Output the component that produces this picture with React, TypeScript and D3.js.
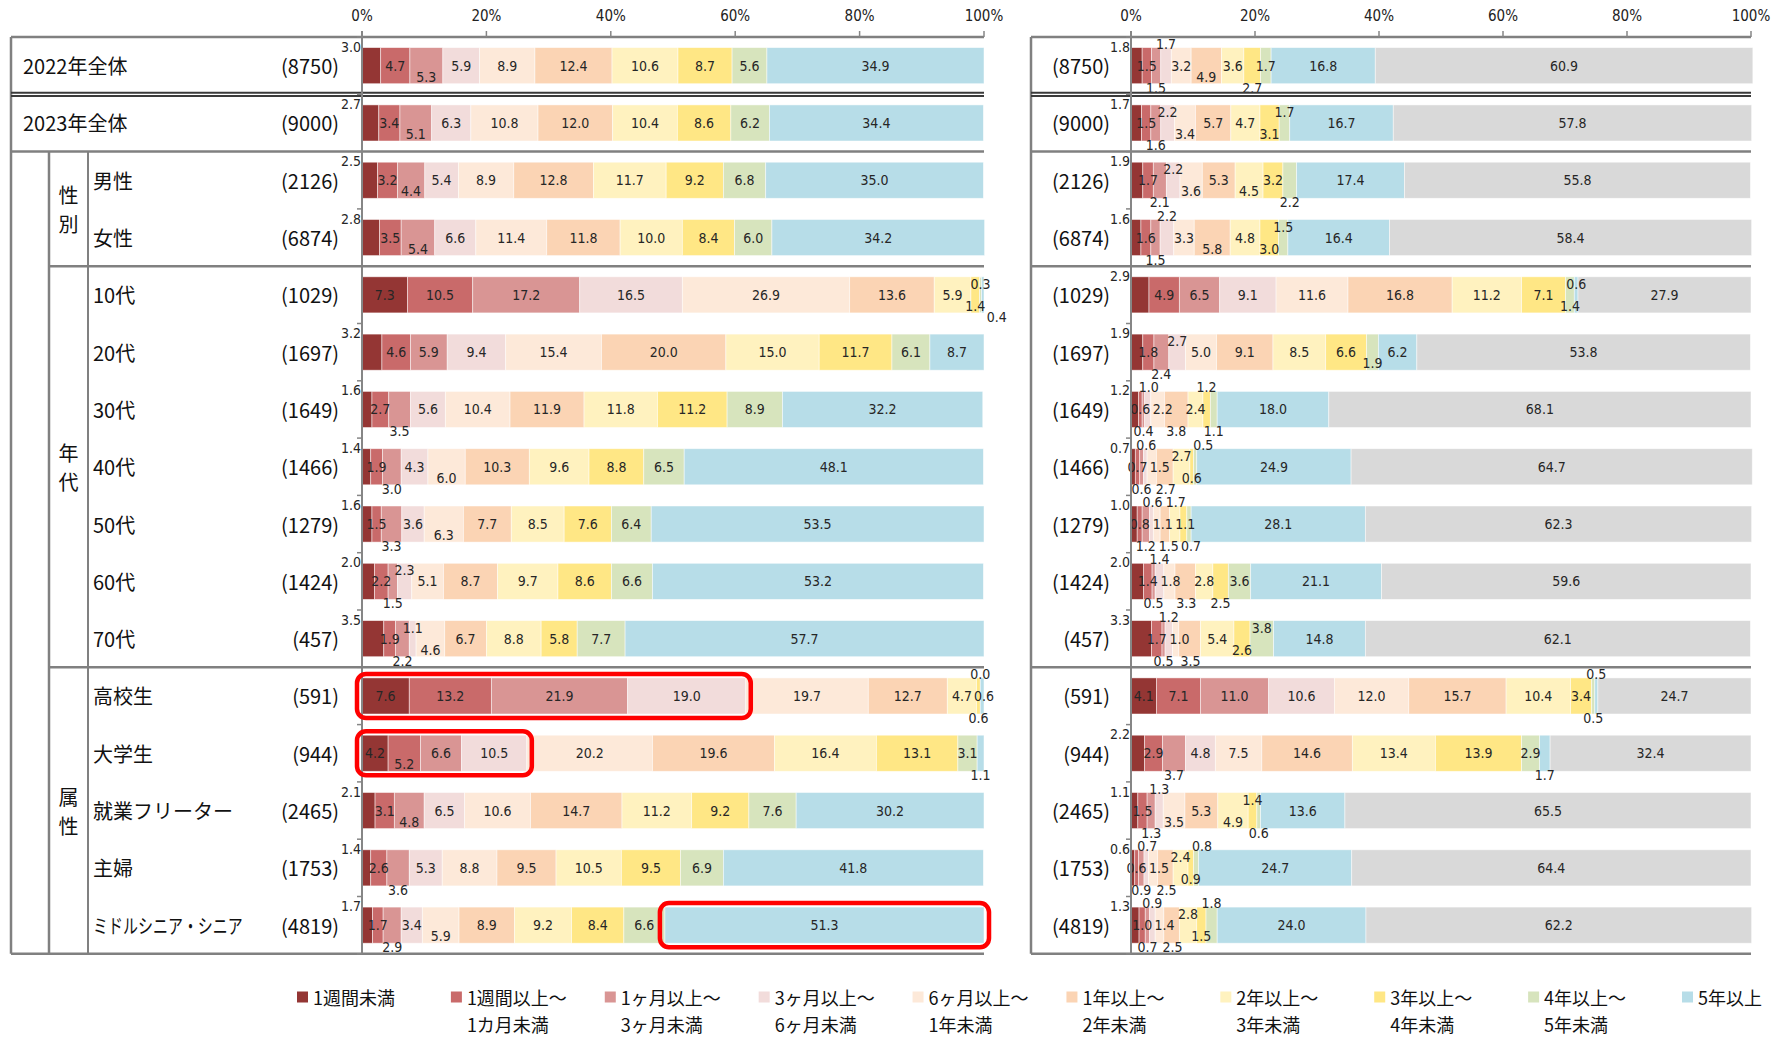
import React from 'react';
import * as d3 from 'd3';

// ---------- data ----------
const rowKeys = ['2022年全体', '2023年全体', '男性', '女性', '10代', '20代', '30代', '40代', '50代', '60代', '70代', '高校生', '大学生', '就業フリーター', '主婦', 'ミドルシニア・シニア'];
const rowN = [8750, 9000, 2126, 6874, 1029, 1697, 1649, 1466, 1279, 1424, 457, 591, 944, 2465, 1753, 4819];
const groupLabels = ['性別', '年代', '属性'];
const groupFrom = [2, 4, 11];
const groupTo = [3, 10, 15];

const legendLine1 = ['1週間未満', '1週間以上～', '1ヶ月以上～', '3ヶ月以上～', '6ヶ月以上～', '1年以上～', '2年以上～', '3年以上～', '4年以上～', '5年以上'];
const legendLine2 = ['', '1カ月未満', '3ヶ月未満', '6ヶ月未満', '1年未満', '2年未満', '3年未満', '4年未満', '5年未満', ''];
const segColors = ['#943634', '#C96A6A', '#D99594', '#F2DCDB', '#FDE9D9', '#FBD4B4', '#FFF2BF', '#FFE785', '#D7E4BD', '#B7DDE8', '#D9D9D9'];

const leftValues = [
  [3.0, 4.7, 5.3, 5.9, 8.9, 12.4, 10.6, 8.7, 5.6, 34.9],
  [2.7, 3.4, 5.1, 6.3, 10.8, 12.0, 10.4, 8.6, 6.2, 34.4],
  [2.5, 3.2, 4.4, 5.4, 8.9, 12.8, 11.7, 9.2, 6.8, 35.0],
  [2.8, 3.5, 5.4, 6.6, 11.4, 11.8, 10.0, 8.4, 6.0, 34.2],
  [7.3, 10.5, 17.2, 16.5, 26.9, 13.6, 5.9, 1.4, 0.3, 0.4],
  [3.2, 4.6, 5.9, 9.4, 15.4, 20.0, 15.0, 11.7, 6.1, 8.7],
  [1.6, 2.7, 3.5, 5.6, 10.4, 11.9, 11.8, 11.2, 8.9, 32.2],
  [1.4, 1.9, 3.0, 4.3, 6.0, 10.3, 9.6, 8.8, 6.5, 48.1],
  [1.6, 1.5, 3.3, 3.6, 6.3, 7.7, 8.5, 7.6, 6.4, 53.5],
  [2.0, 2.2, 1.5, 2.3, 5.1, 8.7, 9.7, 8.6, 6.6, 53.2],
  [3.5, 1.9, 2.2, 1.1, 4.6, 6.7, 8.8, 5.8, 7.7, 57.7],
  [7.6, 13.2, 21.9, 19.0, 19.7, 12.7, 4.7, 0.6, 0.0, 0.6],
  [4.2, 5.2, 6.6, 10.5, 20.2, 19.6, 16.4, 13.1, 3.1, 1.1],
  [2.1, 3.1, 4.8, 6.5, 10.6, 14.7, 11.2, 9.2, 7.6, 30.2],
  [1.4, 2.6, 3.6, 5.3, 8.8, 9.5, 10.5, 9.5, 6.9, 41.8],
  [1.7, 1.7, 2.9, 3.4, 5.9, 8.9, 9.2, 8.4, 6.6, 51.3],
];

const rightValues = [
  [1.8, 1.5, 1.5, 1.7, 3.2, 4.9, 3.6, 2.7, 1.7, 16.8, 60.9],
  [1.7, 1.5, 1.6, 2.2, 3.4, 5.7, 4.7, 3.1, 1.7, 16.7, 57.8],
  [1.9, 1.7, 2.1, 2.2, 3.6, 5.3, 4.5, 3.2, 2.2, 17.4, 55.8],
  [1.6, 1.6, 1.5, 2.2, 3.3, 5.8, 4.8, 3.0, 1.5, 16.4, 58.4],
  [2.9, 4.9, 6.5, 9.1, 11.6, 16.8, 11.2, 7.1, 1.4, 0.6, 27.9],
  [1.9, 1.8, 2.4, 2.7, 5.0, 9.1, 8.5, 6.6, 1.9, 6.2, 53.8],
  [1.2, 0.6, 0.4, 1.0, 2.2, 3.8, 2.4, 1.2, 1.1, 18.0, 68.1],
  [0.7, 0.7, 0.6, 0.6, 1.5, 2.7, 2.7, 0.6, 0.5, 24.9, 64.7],
  [1.0, 0.8, 1.2, 0.6, 1.1, 1.5, 1.7, 1.1, 0.7, 28.1, 62.3],
  [2.0, 1.4, 0.5, 1.4, 1.8, 3.3, 2.8, 2.5, 3.6, 21.1, 59.6],
  [3.3, 1.7, 0.5, 1.2, 1.0, 3.5, 5.4, 2.6, 3.8, 14.8, 62.1],
  [4.1, 7.1, 11.0, 10.6, 12.0, 15.7, 10.4, 3.4, 0.5, 0.5, 24.7],
  [2.2, 2.9, 3.7, 4.8, 7.5, 14.6, 13.4, 13.9, 2.9, 1.7, 32.4],
  [1.1, 1.5, 1.3, 1.3, 3.5, 5.3, 4.9, 1.4, 0.6, 13.6, 65.5],
  [0.6, 0.6, 0.9, 0.7, 1.5, 2.5, 2.4, 0.9, 0.8, 24.7, 64.4],
  [1.3, 1.0, 0.7, 0.9, 1.4, 2.5, 2.8, 1.5, 1.8, 24.0, 62.2],
];

const highlightRows = ['高校生', '大学生', 'ミドルシニア・シニア'];
const highlightFrom = [0, 0, 9];
const highlightTo = [4, 4, 10];

const axisTicks = [0, 20, 40, 60, 80, 100];

// ---------- layout ----------
const W = 1774;
const H = 1040;
const TOP = 37;
const BOTTOM = 953.8;
const FS_EST = 13.4;
const FS = 14;
const GAP = 12;
const LEVEL_STEP = 11;
const LINE = '#808080';
const NUM_FONT = "'DejaVu Sans Condensed', 'DejaVu Sans', sans-serif";
const JP_FONT = "'Noto Sans CJK JP', 'Noto Sans', sans-serif";
const ROW_LABEL_MAX = 150;

const yScale = d3.scaleBand<string>().domain(rowKeys).range([TOP, BOTTOM]).paddingInner(0.37).paddingOuter(0.185);
const step = yScale.step();
const bw = yScale.bandwidth();
const boundary = (i: number) => TOP + i * step;

const xLeft = d3.scaleLinear().domain([0, 100]).range([362, 984]);
const xRight = d3.scaleLinear().domain([0, 100]).range([1131, 1751]);

function textW(s: string) {
  let w = 0;
  for (const c of s) w += c === '.' ? 0.3 * FS_EST : 0.6 * FS_EST;
  return w;
}

type Lab = { text: string; x: number; dy: number; outside: boolean };

function layoutLabels(vals: number[], x: d3.ScaleLinear<number, number>): Lab[] {
  const placed: { cx: number; w: number; dy: number }[] = [];
  const out: Lab[] = [];
  const cums = d3.cumsum(vals);
  const conflicts = (cx: number, w: number, dy: number, gap: number) =>
    placed.some((p) => {
      const ddy = Math.abs(p.dy - dy);
      const ddx = Math.abs(p.cx - cx);
      if (ddy < 3) return ddx < (p.w + w) / 2 + gap;
      if (ddy < 12) return ddx < (p.w + w) / 2 + 1;
      return false;
    });
  vals.forEach((v, i) => {
    const c0 = i === 0 ? 0 : cums[i - 1];
    const x0 = x(c0);
    const x1 = x(c0 + v);
    const text = v.toFixed(1);
    const w = textW(text);
    if (i === 0 && v < 4) {
      const dy = -bw / 2 - 1;
      placed.push({ cx: x0 - 1 - w / 2, w, dy });
      out.push({ text, x: x0 - 1, dy, outside: true });
      return;
    }
    const cx = (x0 + x1) / 2;
    const levels = [0, 1, -1, 2, -2];
    let found: { s: number; l: number } | null = null;
    for (const l of levels) {
      if (!conflicts(cx, w, l * LEVEL_STEP, GAP)) { found = { s: 0, l }; break; }
    }
    if (!found) {
      outer: for (let s = 1; s <= 60; s++) {
        for (const l of levels) {
          if (!conflicts(cx + s, w, l * LEVEL_STEP, 2)) { found = { s, l }; break outer; }
        }
      }
    }
    if (!found) found = { s: 0, l: 0 };
    const dy = found.l * LEVEL_STEP;
    placed.push({ cx: cx + found.s, w, dy });
    out.push({ text, x: cx + found.s, dy, outside: false });
  });
  return out;
}

function Panel({ values, x, boxLeft, nRight }: { values: number[][]; x: d3.ScaleLinear<number, number>; boxLeft: number; nRight: number }) {
  const x0 = x(0);
  const x100 = x(100);
  return (
    <g>
      {rowKeys.map((rk, ri) => {
        const vals = values[ri];
        const cums = d3.cumsum(vals);
        const y0 = yScale(rk) as number;
        return (
          <g key={rk}>
            {vals.map((v, i) => {
              const c0 = i === 0 ? 0 : cums[i - 1];
              return (
                <rect key={i} x={x(c0)} y={y0} width={Math.max(0, x(c0 + v) - x(c0))} height={bw}
                  fill={segColors[i]} stroke="#ffffff" strokeOpacity={0.6} strokeWidth={0.8} />
              );
            })}
          </g>
        );
      })}
      {rowKeys.map((rk, ri) => (
        <text key={'n' + rk} x={nRight} y={(yScale(rk) as number) + bw / 2} textAnchor="end" dominantBaseline="central"
          fontSize={20} fontFamily={JP_FONT} fill="#111">({rowN[ri]})</text>
      ))}
      {rowKeys.map((rk, ri) => {
        const yc = (yScale(rk) as number) + bw / 2;
        const labs = layoutLabels(values[ri], x);
        return (
          <g key={'l' + rk}>
            {labs.map((l, i) => (
              <text key={i} x={l.x} y={yc + l.dy}
                textAnchor={l.outside ? 'end' : 'middle'} dominantBaseline="central" fontSize={FS}
                fontFamily={NUM_FONT} fill="#262626">{l.text}</text>
            ))}
          </g>
        );
      })}
      <line x1={boxLeft} x2={boxLeft} y1={TOP} y2={BOTTOM} stroke={LINE} strokeWidth={2.5} />
      <line x1={boxLeft} x2={x100} y1={TOP} y2={TOP} stroke={LINE} strokeWidth={2.5} />
      <line x1={boxLeft} x2={x100} y1={BOTTOM} y2={BOTTOM} stroke={LINE} strokeWidth={2.5} />
      <line x1={boxLeft} x2={x100} y1={boundary(1) - 1.6} y2={boundary(1) - 1.6} stroke="#3a3a3a" strokeWidth={2} />
      <line x1={boxLeft} x2={x100} y1={boundary(1) + 1.6} y2={boundary(1) + 1.6} stroke="#3a3a3a" strokeWidth={2} />
      <line x1={boxLeft} x2={x100} y1={boundary(2)} y2={boundary(2)} stroke={LINE} strokeWidth={2.5} />
      <line x1={x0} x2={x0} y1={TOP - 6} y2={BOTTOM} stroke="#868686" strokeWidth={2} />
      {d3.range(rowKeys.length + 1).map((i) => (
        <line key={'ct' + i} x1={x0 - 5} x2={x0} y1={boundary(i)} y2={boundary(i)} stroke="#868686" strokeWidth={1.5} />
      ))}
      {axisTicks.map((t) => (
        <g key={'t' + t}>
          <line x1={x(t)} x2={x(t)} y1={TOP - 6} y2={TOP} stroke="#868686" strokeWidth={1.5} />
          <text x={x(t)} y={16} textAnchor="middle" dominantBaseline="central" fontSize={15} fontFamily={NUM_FONT} fill="#222">{t}%</text>
        </g>
      ))}
    </g>
  );
}

export default function App() {
  const groupLineX = 49;
  const groupLineX2 = 88;
  const legendX = d3.scalePoint<number>().domain(d3.range(legendLine1.length)).range([297, 1682]);
  return (
    <svg width={W} height={H} viewBox={`0 0 ${W} ${H}`} style={{ position: 'absolute', left: 0, top: 0, background: '#fff' }}>
      <rect x={0} y={0} width={W} height={H} fill="#fff" />
      <Panel values={leftValues} x={xLeft} boxLeft={11} nRight={339} />
      <Panel values={rightValues} x={xRight} boxLeft={1031} nRight={1110} />

      <line x1={groupLineX} x2={xLeft(100)} y1={boundary(4)} y2={boundary(4)} stroke={LINE} strokeWidth={2.5} />
      <line x1={groupLineX} x2={xLeft(100)} y1={boundary(11)} y2={boundary(11)} stroke={LINE} strokeWidth={2.5} />
      <line x1={groupLineX} x2={groupLineX} y1={boundary(2)} y2={BOTTOM} stroke={LINE} strokeWidth={2.5} />
      <line x1={groupLineX2} x2={groupLineX2} y1={boundary(2)} y2={BOTTOM} stroke={LINE} strokeWidth={2} />
      <line x1={1031} x2={xRight(100)} y1={boundary(4)} y2={boundary(4)} stroke={LINE} strokeWidth={2.5} />
      <line x1={1031} x2={xRight(100)} y1={boundary(11)} y2={boundary(11)} stroke={LINE} strokeWidth={2.5} />

      {rowKeys.map((rk, ri) => {
        const est = Array.from(rk).length * 20;
        const squeeze = ri >= 2 && est > ROW_LABEL_MAX ? ROW_LABEL_MAX / est : 1;
        const lx = ri < 2 ? 23 : 93;
        const ly = (yScale(rk) as number) + bw / 2;
        return (
          <text key={'r' + rk} transform={`translate(${lx},${ly}) scale(${squeeze},1)`} x={0} y={0} dominantBaseline="central"
            fontSize={20} fontFamily={JP_FONT} fill="#111">{rk}</text>
        );
      })}
      {groupLabels.map((g, gi) => {
        const mid = (boundary(groupFrom[gi]) + boundary(groupTo[gi] + 1)) / 2;
        return (
          <g key={g}>
            {Array.from(g).map((ch, ci) => (
              <text key={ci} x={(groupLineX + groupLineX2) / 2} y={mid + (ci - 0.5) * 29} textAnchor="middle"
                dominantBaseline="central" fontSize={20} fontFamily={JP_FONT} fill="#111">{ch}</text>
            ))}
          </g>
        );
      })}

      {highlightRows.map((hr, hi) => {
        const ri = rowKeys.indexOf(hr);
        const cums = d3.cumsum(leftValues[ri]);
        const a = highlightFrom[hi] === 0 ? 0 : cums[highlightFrom[hi] - 1];
        const b = cums[highlightTo[hi] - 1];
        const y0 = yScale(hr) as number;
        return (
          <rect key={'h' + hr} x={xLeft(a) - 5} y={y0 - 4} width={xLeft(b) - xLeft(a) + 10} height={bw + 8}
            rx={9} ry={9} fill="none" stroke="#FF0000" strokeWidth={4.5} />
        );
      })}

      {legendLine1.map((l1, i) => {
        const lx = legendX(i) as number;
        return (
          <g key={'lg' + i}>
            <rect x={lx} y={991.5} width={11} height={11} fill={segColors[i]} />
            <text x={lx + 16} y={997} dominantBaseline="central" fontSize={18} fontFamily={JP_FONT} fill="#111">{l1}</text>
            {legendLine2[i] && (
              <text x={lx + 16} y={1024} dominantBaseline="central" fontSize={18} fontFamily={JP_FONT} fill="#111">{legendLine2[i]}</text>
            )}
          </g>
        );
      })}
    </svg>
  );
}
